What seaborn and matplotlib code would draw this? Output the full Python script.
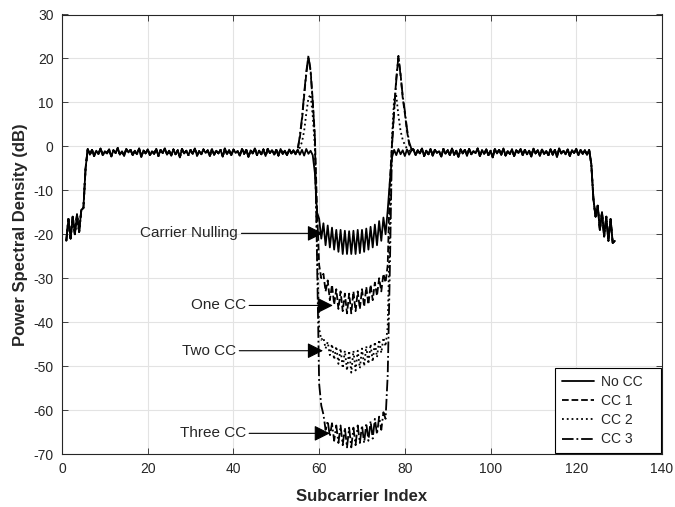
import numpy as np
import pandas as pd
import matplotlib
matplotlib.use("Agg")
import matplotlib.pyplot as plt
import seaborn as sns

# ---------------- data ----------------
step = 0.5
x_left = np.arange(1.0, 55.0, step)     # 1.0 .. 54.5
x_mid = np.arange(55.0, 82.0, step)     # 55.0 .. 81.5
x_right = np.arange(82.0, 129.5, step)  # 82.0 .. 129.0

# shared part (all four curves coincide outside the notch)
psd_left = [
    -21.5, -16.5, -21.0, -16.0, -20.0, -15.5, -19.5, -14.5, -14.0, -5.0,
    -0.6, -1.9, -0.8, -2.2, -1.0, -1.7, -0.5, -2.0, -1.1, -1.6,
    -0.7, -2.3, -0.9, -1.5, -0.4, -1.9, -1.2, -2.1, -0.6, -1.4,
    -0.8, -2.0, -1.0, -1.8, -0.5, -2.4, -0.9, -1.6, -0.7, -2.0,
    -1.1, -1.7, -0.6, -2.2, -0.8, -1.5, -0.5, -1.9, -1.0, -2.1,
    -0.7, -1.8, -0.9, -2.5, -0.6, -1.6, -1.0, -2.0, -0.8, -1.7,
    -0.5, -2.1, -1.1, -1.8, -0.7, -1.5, -0.9, -2.2, -0.6, -1.9,
    -1.0, -1.6, -0.8, -2.3, -0.5, -1.8, -0.9, -2.0, -0.7, -1.5,
    -1.1, -2.1, -0.6, -1.7, -0.8, -2.4, -0.9, -1.6, -0.5, -2.0,
    -1.0, -1.8, -0.7, -2.2, -0.6, -1.5, -0.9, -1.9, -0.8, -2.1,
    -0.6, -1.7, -1.0, -2.0, -0.7, -1.6, -0.9, -1.8,
]
psd_right = [
    -0.7, -2.0, -0.9, -1.6, -0.5, -2.2, -1.0, -1.8, -0.6, -2.1,
    -0.8, -1.5, -1.1, -2.3, -0.6, -1.7, -0.9, -2.0, -0.5, -1.9,
    -1.0, -2.4, -0.7, -1.6, -0.8, -2.1, -0.6, -1.8, -1.1, -1.5,
    -0.5, -2.2, -0.9, -1.7, -0.7, -2.0, -1.0, -2.5, -0.6, -1.6,
    -0.8, -1.9, -0.5, -2.1, -1.1, -1.7, -0.7, -2.2, -0.9, -1.5,
    -0.6, -2.0, -0.8, -1.8, -1.0, -2.3, -0.5, -1.6, -0.9, -2.1,
    -0.7, -1.7, -1.1, -2.0, -0.6, -1.9, -0.8, -2.4, -0.5, -1.6,
    -1.0, -1.8, -0.7, -2.2, -0.9, -1.5, -0.6, -2.0, -0.8, -1.7,
    -0.9, -1.9, -0.8,
    -4.0, -12.0, -16.0, -13.5, -19.0, -15.0, -20.5, -16.0, -21.5, -16.5, -22.0, -21.5,
]

# notch region (x = 55.0 .. 81.5) per curve
mid_no_cc = [
    -0.7, -1.9, -0.8, -2.1, -0.6, -1.7, -1.0, -2.0, -6.0, -15.0,
    -16.5, -21.0, -17.5, -22.5, -18.0, -23.0, -18.5, -23.5, -19.0, -24.0,
    -19.0, -24.5, -19.2, -24.5, -19.3, -24.5, -19.2, -24.5, -19.0, -24.3,
    -19.0, -24.0, -18.7, -23.5, -18.3, -23.0, -17.8, -22.5, -17.0, -21.5,
    -16.2, -20.0, -14.5, -8.0, -2.5, -0.8, -2.0, -0.6, -1.8, -0.9,
    -2.2, -0.7, -1.9, -1.0,
]
mid_cc1 = [
    -0.5, 2.0, 6.0, 11.5, 16.5, 20.2, 17.5, 10.5, 2.5, -14.0,
    -27.0, -30.0, -29.0, -33.0, -30.5, -35.0, -31.5, -36.0, -32.5, -37.0,
    -33.0, -37.5, -33.5, -38.0, -33.5, -38.0, -33.0, -37.5, -33.0, -37.0,
    -32.5, -36.5, -32.0, -36.0, -31.5, -35.0, -31.0, -34.0, -30.0, -33.0,
    -29.0, -31.0, -27.0, -8.0, 0.5, 8.5, 15.5, 20.2, 16.5, 11.0,
    7.5, 3.5, 0.5, -0.8,
]
mid_cc2 = [
    -1.0, -0.3, 1.0, 3.5, 7.5, 11.0, 11.8, 7.0, 0.0, -22.0,
    -41.5, -44.0, -43.5, -46.0, -44.5, -47.5, -45.0, -48.5, -45.5, -49.5,
    -46.0, -50.5, -46.5, -51.0, -46.5, -51.5, -46.5, -51.0, -46.5, -50.5,
    -46.0, -50.0, -45.5, -49.5, -45.0, -49.0, -44.5, -48.0, -44.0, -47.0,
    -43.5, -45.5, -41.0, -18.0, 2.0, 11.0, 11.5, 7.0, 3.5, 1.5,
    0.3, -0.5, -1.0, -1.2,
]
mid_cc3 = [
    -0.8, 2.5, 6.5, 12.0, 17.0, 20.6, 17.0, 10.0, 2.0, -25.0,
    -54.0, -59.0, -61.0, -64.5, -62.5, -66.0, -63.0, -67.0, -63.5, -67.5,
    -63.5, -68.0, -64.0, -68.5, -64.0, -68.5, -64.0, -68.0, -63.5, -67.5,
    -63.5, -67.5, -63.0, -67.0, -62.5, -66.5, -62.0, -65.5, -61.5, -64.5,
    -60.5, -62.0, -52.0, -28.0, 0.0, 8.0, 15.0, 20.6, 16.0, 11.5,
    8.0, 4.0, 1.0, -0.5,
]

series_names = ["No CC", "CC 1", "CC 2", "CC 3"]
series_mid = [mid_no_cc, mid_cc1, mid_cc2, mid_cc3]
series_styles = ["-", "--", ":", "-."]

# annotations: label, text anchor (right end), arrow tip
ann_labels = ["Carrier Nulling", "One CC", "Two CC", "Three CC"]
ann_text_xy = [(41.1, -19.8), (42.9, -36.2), (40.6, -46.5), (42.9, -65.3)]
ann_tip_xy = [(60.9, -19.8), (63.2, -36.2), (60.9, -46.5), (62.5, -65.3)]

x_ticks = list(range(0, 141, 20))
y_ticks = list(range(-70, 31, 10))

# ---------------- build long-form table ----------------
x_all = np.concatenate([x_left, x_mid, x_right])
frames = []
for name, mid in zip(series_names, series_mid):
    y_all = np.concatenate([psd_left, mid, psd_right])
    frames.append(pd.DataFrame({"Subcarrier": x_all, "PSD": y_all, "series": name}))
df = pd.concat(frames, ignore_index=True)

# ---------------- plot ----------------
sns.set_style("ticks")
plt.rcParams["font.family"] = ["Liberation Sans", "DejaVu Sans"]
plt.rcParams["axes.unicode_minus"] = False

fig = plt.figure(figsize=(6.75, 5.07), dpi=100)
ax = fig.add_axes([62 / 675, 1 - 454 / 507, 600 / 675, (454 - 14.5) / 507])

for name, ls in zip(series_names, series_styles):
    sub = df[df["series"] == name]
    sns.lineplot(data=sub, x="Subcarrier", y="PSD", ax=ax, color="black",
                 linestyle=ls, linewidth=1.3, label=name + "   ",
                 estimator=None, sort=False)

for lab, txy, tip in zip(ann_labels, ann_text_xy, ann_tip_xy):
    ax.annotate(lab, xy=tip, xytext=txy, ha="right", va="center", fontsize=11,
                arrowprops=dict(arrowstyle="-|>,head_length=0.6,head_width=0.3",
                                color="black", lw=0.8, shrinkA=0, shrinkB=0,
                                mutation_scale=16))

ax.set_xlim(0, 140)
ax.set_ylim(-70, 30)
ax.set_xticks(x_ticks)
ax.set_yticks(y_ticks)
ax.grid(True, color="#e3e3e3", linewidth=0.8)
ax.set_axisbelow(True)
ax.tick_params(direction="in", top=True, right=True, labelsize=10, length=4,
               color="#262626", width=0.6, pad=6)
for sp in ax.spines.values():
    sp.set_visible(True)
    sp.set_color("#262626")
    sp.set_linewidth(0.8)

ax.set_xlabel("Subcarrier Index", fontsize=12, fontweight="bold", labelpad=9)
ax.set_ylabel("Power Spectral Density (dB)", fontsize=12, fontweight="bold", labelpad=4)

leg = ax.legend(loc="lower right", fontsize=10, frameon=True, fancybox=False,
                edgecolor="black", framealpha=1.0, borderaxespad=0.05,
                handlelength=2.3, handletextpad=0.5, labelspacing=0.38, borderpad=0.5)
leg.get_frame().set_linewidth(0.8)

fig.savefig("out.png", dpi=100)
